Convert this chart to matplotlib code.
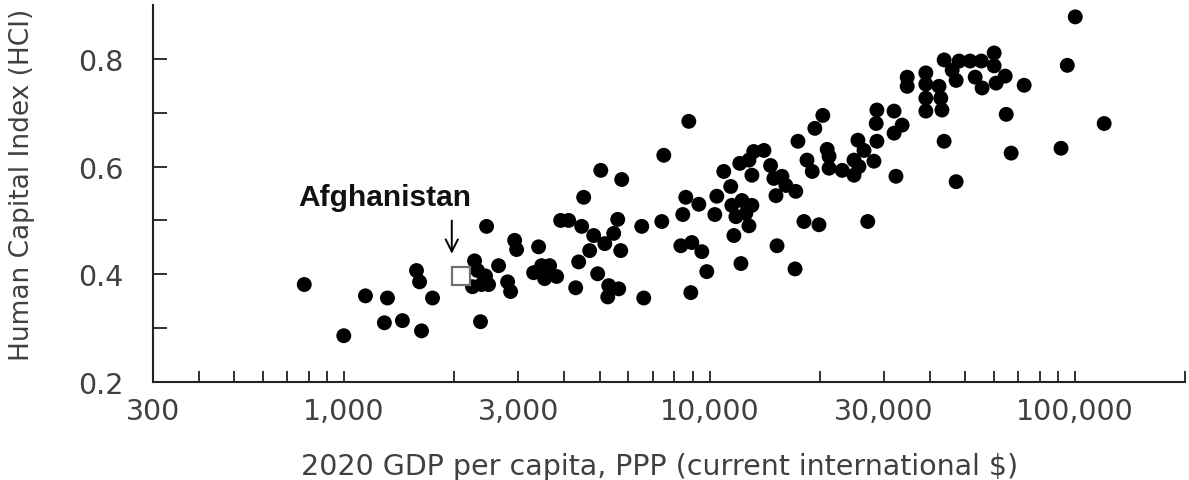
import matplotlib
matplotlib.use("Agg")
import matplotlib.pyplot as plt
from matplotlib.ticker import FixedLocator, FixedFormatter, NullLocator

# ---- data ----
gdp = [778, 998, 1144, 1314, 1578, 1609, 1746, 1289, 1444, 1629,
       2275, 2319, 2438, 2246, 2377, 2485, 2454, 2362, 2647, 2802,
       2855, 2929, 2965, 3406, 3301, 3471, 3651, 3538, 3816, 5040,
       4525, 3914, 4117, 4468, 4820, 5168, 4699, 4385, 4943, 4303,
       5299, 5643, 5266, 5608, 5468, 5715, 5751, 6607, 6524, 7402,
       7497, 8776, 8612, 9350, 8450, 8346, 8944, 9528, 9830, 8888,
       10340, 10470, 10940, 11430, 12100, 13210, 13060, 11510, 12270, 13060,
       11810, 12570, 12820, 11660, 12190, 14090, 12820, 14690, 15000, 15780,
       16180, 15200, 17220, 15300, 17140, 18130, 19930, 17460, 19420, 20420,
       18480, 19100, 20990, 21240, 21240, 23070, 24850, 25640, 24850, 26470,
       28180, 25470, 28710, 28710, 28580, 31990, 31990, 33650, 32370, 27100,
       43850, 47300, 34750, 34750, 39080, 39080, 42470, 39080, 42940, 39080,
       43250, 43850, 46130, 47300, 48200, 51650, 55430, 60100, 60100, 53330,
       55700, 60850, 64420, 72610, 64850, 66900, 91600, 120200, 95300, 100200]
hci = [0.381, 0.286, 0.360, 0.356, 0.407, 0.386, 0.356, 0.310, 0.314, 0.295,
       0.425, 0.407, 0.397, 0.377, 0.381, 0.381, 0.489, 0.312, 0.416, 0.386,
       0.368, 0.463, 0.446, 0.451, 0.403, 0.416, 0.416, 0.392, 0.396, 0.593,
       0.543, 0.500, 0.500, 0.489, 0.472, 0.457, 0.444, 0.423, 0.401, 0.375,
       0.379, 0.373, 0.358, 0.502, 0.476, 0.444, 0.576, 0.356, 0.489, 0.498,
       0.621, 0.684, 0.543, 0.530, 0.511, 0.453, 0.459, 0.442, 0.405, 0.366,
       0.511, 0.545, 0.591, 0.563, 0.606, 0.628, 0.584, 0.528, 0.537, 0.528,
       0.507, 0.513, 0.490, 0.472, 0.420, 0.630, 0.612, 0.602, 0.578, 0.582,
       0.565, 0.546, 0.554, 0.453, 0.410, 0.498, 0.492, 0.647, 0.671, 0.695,
       0.612, 0.591, 0.632, 0.619, 0.597, 0.593, 0.612, 0.600, 0.584, 0.630,
       0.610, 0.649, 0.647, 0.705, 0.680, 0.703, 0.662, 0.677, 0.582, 0.498,
       0.647, 0.572, 0.766, 0.749, 0.774, 0.753, 0.749, 0.727, 0.727, 0.703,
       0.705, 0.798, 0.779, 0.760, 0.796, 0.796, 0.796, 0.811, 0.787, 0.766,
       0.746, 0.755, 0.768, 0.751, 0.697, 0.625, 0.634, 0.680, 0.788, 0.878]

afg_name = "Afghanistan"
afg_gdp = 2083
afg_hci = 0.397

x_label_values = [300, 1000, 3000, 10000, 30000, 100000]
x_label_texts = ["300", "1,000", "3,000", "10,000", "30,000", "100,000"]
y_label_values = [0.2, 0.4, 0.6, 0.8]
y_label_texts = ["0.2", "0.4", "0.6", "0.8"]

# ---- figure ----
fig = plt.figure(figsize=(11.89, 4.81), dpi=100)
ax = fig.add_axes([0.1287, 0.2037, 0.8679, 0.7838])
ax.set_xscale("log")
ax.set_xlim(300, 200000)
ax.set_ylim(0.2, 0.9)

ax.scatter(gdp, hci, s=115, color="black", edgecolors="none", zorder=3)
ax.plot([afg_gdp], [afg_hci], marker="s", markersize=12.5, markerfacecolor="white",
        markeredgecolor="#707070", markeredgewidth=1.6, linestyle="none", zorder=4)

# annotation
ax.text(1295, 0.5296, afg_name, ha="center", va="baseline", fontsize=21.5,
        fontweight="bold", family="Liberation Sans", color="#111111")
ax.annotate("", xy=(1971, 0.433), xytext=(1971, 0.505),
            arrowprops=dict(arrowstyle="->", color="black", lw=1.4,
                            mutation_scale=22))

# spines
for s in ["top", "right"]:
    ax.spines[s].set_visible(False)
for s in ["left", "bottom"]:
    ax.spines[s].set_linewidth(1.5)
    ax.spines[s].set_color("#222222")

# x ticks: marks at every integer multiple, labels at chosen values
tick_marks = []
for dec in [100, 1000, 10000, 100000]:
    for m in range(1, 10):
        v = m * dec
        if 300 <= v <= 200000:
            tick_marks.append(v)
ax.xaxis.set_major_locator(FixedLocator(tick_marks))
labels = [x_label_texts[x_label_values.index(v)] if v in x_label_values else "" for v in tick_marks]
ax.xaxis.set_major_formatter(FixedFormatter(labels))
ax.xaxis.set_minor_locator(NullLocator())
ax.tick_params(axis="x", direction="in", length=8, width=1.3, color="#222222",
               labelsize=20.5, labelcolor="#404040", pad=11)

# y ticks
ax.yaxis.set_major_locator(FixedLocator([0.2, 0.3, 0.4, 0.5, 0.6, 0.7, 0.8]))
ylabs = []
for v in [0.2, 0.3, 0.4, 0.5, 0.6, 0.7, 0.8]:
    match = [t for val, t in zip(y_label_values, y_label_texts) if abs(val - v) < 1e-9]
    ylabs.append(match[0] if match else "")
ax.yaxis.set_major_formatter(FixedFormatter(ylabs))
ax.tick_params(axis="y", direction="in", length=10, width=1.3, color="#222222",
               labelsize=20.5, labelcolor="#404040", pad=21)

ax.set_xlabel("2020 GDP per capita, PPP (current international $)", fontsize=20.5,
              color="#404040", va="center", ha="center")
ax.xaxis.set_label_coords(0.491, -0.222)
ax.set_ylabel("Human Capital Index (HCI)", fontsize=19, color="#404040",
              va="center", ha="center")
ax.yaxis.set_label_coords(-0.127, 0.525)

fig.savefig("out.png", dpi=100)
